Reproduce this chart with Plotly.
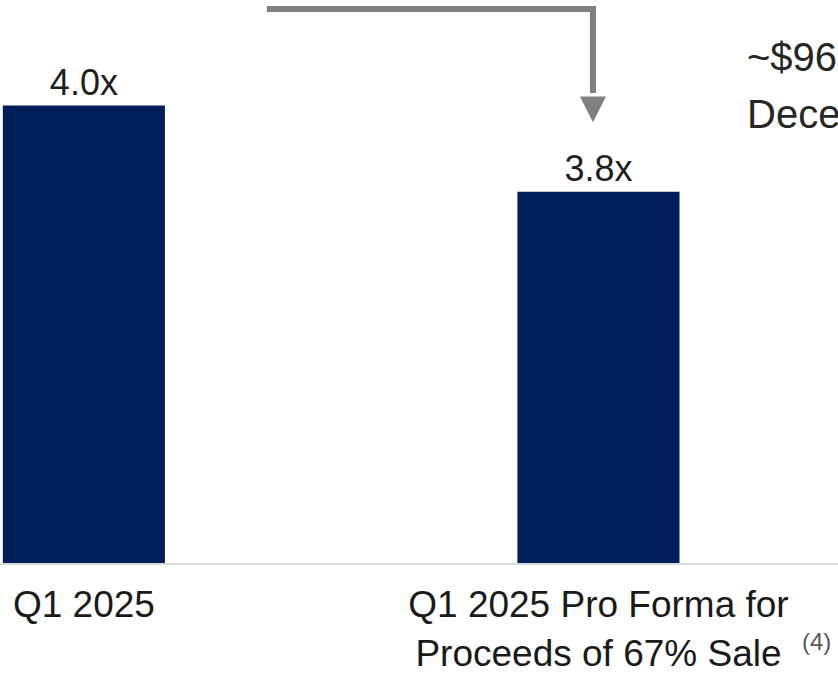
import plotly.graph_objects as go

categories = ["Q1 2025", "Q1 2025 Pro Forma for<br>Proceeds of 67% Sale"]
values = [4.0, 3.8]
value_labels = ["4.0x", "3.8x"]
side_lines = ["~$96", "Dece"]
footnote = "(4)"

NAVY = "#001E5A"
GRAY = "#808080"
FONT = "Liberation Sans, Arial, sans-serif"

fig = go.Figure()
fig.add_bar(
    x=categories, y=values, text=value_labels, textposition="outside",
    width=0.315, marker=dict(color=NAVY, line=dict(width=0)),
    textfont=dict(family=FONT, size=36, color="#1f1f1f"),
    cliponaxis=False, hoverinfo="skip",
)

# connector arrow from first bar to second bar
fig.add_shape(type="path", xref="x", yref="paper",
              path="M 0.3557,0.9841 L 0.9893,0.9841 L 0.9893,0.835",
              line=dict(color=GRAY, width=6))
fig.add_shape(type="path", xref="x", yref="paper",
              path="M 0.964,0.8286 L 1.0146,0.8286 L 0.9893,0.7827 Z",
              fillcolor=GRAY, line=dict(width=0))

for txt, yy in zip(side_lines, [0.899, 0.797]):
    fig.add_annotation(x=0.889, y=yy, xref="paper", yref="paper", text=txt,
                       showarrow=False, xanchor="left", yanchor="middle",
                       font=dict(family=FONT, size=40, color="#262626"))

fig.add_annotation(x=0.955, y=-0.1396, xref="paper", yref="paper", text=footnote,
                   showarrow=False, xanchor="left", yanchor="middle",
                   font=dict(family=FONT, size=24, color="#595959"))

fig.update_layout(
    width=838, height=674,
    margin=dict(l=0, r=0, t=0, b=108),
    plot_bgcolor="white", paper_bgcolor="white",
    showlegend=False,
    xaxis=dict(type="category", range=[-0.163, 1.4655], showline=True,
               linecolor="#d9d9d9", linewidth=2, ticks="", showgrid=False,
               ticklabelstandoff=8,
               tickfont=dict(family=FONT, size=37, color="#1a1a1a")),
    yaxis=dict(range=[2.939, 4.245], visible=False, showgrid=False, zeroline=False),
)

fig.write_html("out.html")
